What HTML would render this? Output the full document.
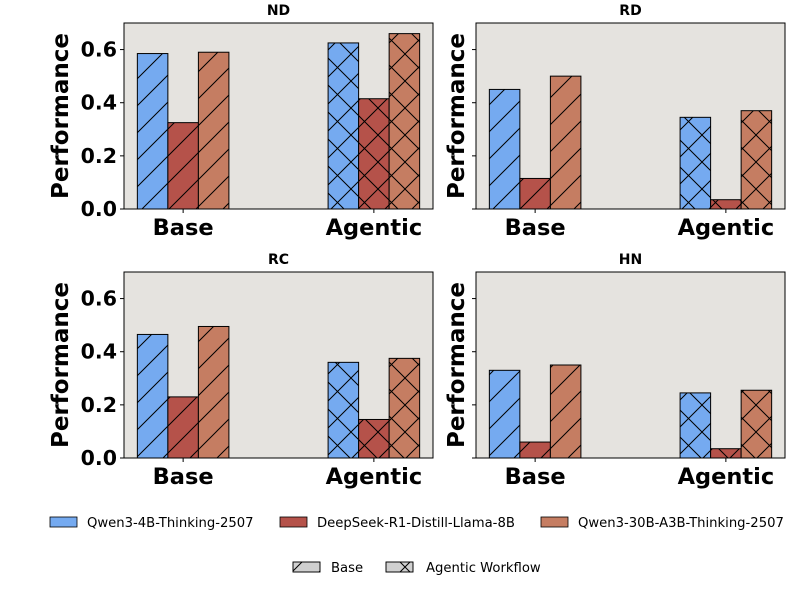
<!DOCTYPE html>
<html><head><meta charset="utf-8"><style>
body{margin:0;background:#fff}
svg{display:block;font-family:"DejaVu Sans","Liberation Sans",sans-serif}
</style></head><body>
<svg id="chart" width="810" height="589" viewBox="0 0 810 589">
<defs>
<pattern id="hb" patternUnits="userSpaceOnUse" width="27" height="27"><path d="M-3,3 L3,-3 M0,27 L27,0 M24,30 L30,24" stroke="#000" stroke-width="1"/></pattern>
<pattern id="hx" patternUnits="userSpaceOnUse" width="27" height="27"><path d="M-3,3 L3,-3 M0,27 L27,0 M24,30 L30,24 M-3,24 L3,30 M0,0 L27,27 M24,-3 L30,3" stroke="#000" stroke-width="1"/></pattern>
</defs>
<g id="panels"></g>
<g font-size="13.2">
<rect x="50" y="517" width="27" height="10" fill="#75aaf0" stroke="#000" stroke-width="0.8"/>
<text x="87" y="527">Qwen3-4B-Thinking-2507</text>
<rect x="280" y="517" width="27" height="10" fill="#b5524a" stroke="#000" stroke-width="0.8"/>
<text x="317" y="527">DeepSeek-R1-Distill-Llama-8B</text>
<rect x="541" y="517" width="27" height="10" fill="#c57d62" stroke="#000" stroke-width="0.8"/>
<text x="578" y="527">Qwen3-30B-A3B-Thinking-2507</text>
</g>
<g font-size="13.2">
<rect x="293" y="562" width="27" height="10" fill="#d0d0d0" stroke="#000" stroke-width="0.8"/>
<rect x="293" y="562" width="27" height="10" fill="url(#hb)" stroke="#000" stroke-width="0.8"/>
<text x="331" y="572">Base</text>
<rect x="386" y="562" width="27" height="10" fill="#d0d0d0" stroke="#000" stroke-width="0.8"/>
<rect x="386" y="562" width="27" height="10" fill="url(#hx)" stroke="#000" stroke-width="0.8"/>
<text x="426" y="572">Agentic Workflow</text>
</g>
</svg>
<script>
const panelTitles = ["ND","RD","RC","HN"];
const categories = ["Base","Agentic"];
const models = ["Qwen3-4B-Thinking-2507","DeepSeek-R1-Distill-Llama-8B","Qwen3-30B-A3B-Thinking-2507"];
const qwen4bValues = [[0.585,0.625],[0.45,0.345],[0.465,0.36],[0.33,0.245]];
const deepseekValues = [[0.325,0.415],[0.115,0.035],[0.23,0.145],[0.06,0.035]];
const qwen30bValues = [[0.59,0.66],[0.5,0.37],[0.495,0.375],[0.35,0.255]];
const yTicks = [0.0,0.2,0.4,0.6];
const yTickLabels = ["0.0","0.2","0.4","0.6"];
const colors = ["#75aaf0","#b5524a","#c57d62"];
const NS="http://www.w3.org/2000/svg";
const g=document.getElementById('panels');
function mk(t,a,p){const e=document.createElementNS(NS,t);for(const k in a)e.setAttribute(k,a[k]);(p||g).appendChild(e);return e;}
const layout=[[124,23],[476,23],[124,272],[476,272]];
const W=309,H=186,ymax=0.7;
panelTitles.forEach((title,pi)=>{
  const [x0,y0]=layout[pi];
  const pg=mk('g',{});
  
  
  const ys=v=>y0+H-v/ymax*H;
  const xs=v=>x0+W*(v+0.31)/1.62;
  const bg=mk('rect',{x:x0,y:y0,width:W,height:H,fill:'#e5e3df'},pg);
  
  
  const series=[qwen4bValues[pi],deepseekValues[pi],qwen30bValues[pi]];
  const bw=0.16;
  categories.forEach((c,ci)=>{
    series.forEach((vals,si)=>{
      const v=vals[ci];
      const xl=xs(ci+(si-1)*bw-bw/2), xr=xs(ci+(si-1)*bw+bw/2);
      const r=mk('rect',{x:xl,y:ys(v),width:xr-xl,height:ys(0)-ys(v),fill:colors[si]},pg);
      
      
      mk('rect',{x:xl,y:ys(v),width:xr-xl,height:ys(0)-ys(v),fill:ci?'url(#hx)':'url(#hb)',stroke:'#000','stroke-width':1},pg);
    });
    mk('line',{x1:xs(ci),x2:xs(ci),y1:y0+H,y2:y0+H+4,stroke:'#000'},pg);
    const t=mk('text',{x:xs(ci),y:y0+H+26,'text-anchor':'middle','font-size':22.5,'font-weight':'bold'},pg);
    t.textContent=c;
    
    
  });
  yTicks.forEach((v,i)=>{
    mk('line',{x1:x0-4,x2:x0,y1:ys(v),y2:ys(v),stroke:'#000'},pg);
    if(pi%2===0){
      const t=mk('text',{x:x0-7,y:ys(v)+7,'text-anchor':'end','font-size':20.5,'font-weight':'bold'},pg);
      t.textContent=yTickLabels[i];
      
      
    }
  });
  mk('rect',{x:x0,y:y0,width:W,height:H,fill:'none',stroke:'#000','stroke-width':1},pg);
  const tt=mk('text',{x:x0+W/2,y:y0-8,'text-anchor':'middle','font-size':14,'font-weight':'bold'},pg);
  tt.textContent=title;
  
  
  const lx=pi%2===0?68:464;
  const yl=mk('text',{x:lx,y:y0+H/2,'text-anchor':'middle','font-size':23,'font-weight':'bold',transform:`rotate(-90 ${lx} ${y0+H/2})`},pg);
  yl.textContent='Performance';
  
  
});
</script>
</body></html>
